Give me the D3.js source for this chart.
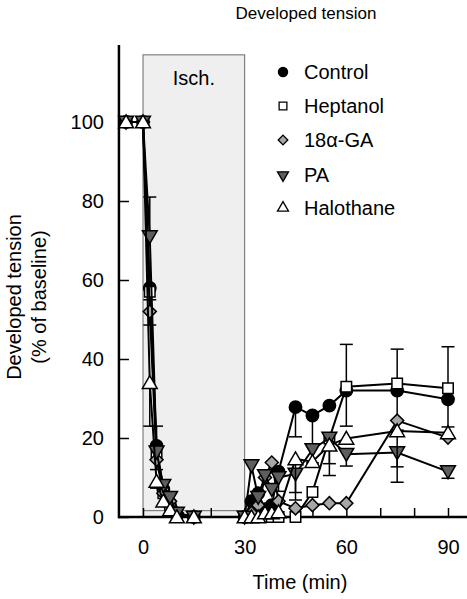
<!DOCTYPE html>
<html><head><meta charset="utf-8">
<script src="https://cdn.jsdelivr.net/npm/d3@7"></script>
<style>body{margin:0;background:#fff}svg{display:block}text{font-family:"Liberation Sans",Arial,sans-serif}</style>
</head><body>
<script>
const times = [-5,0,2,4,6,8,10,15,30,32,34,36,38,40,45,50,55,60,75,90];
const seriesNames = ["Control","Heptanol","18\u03B1-GA","PA","Halothane"];
const control  = [100,100,58,18,7,3,0.5,0, 0,4,6,2,3,11.5,27.8,25.7,28.2,32,32,29.8];
const heptanol = [100,100,57,16,6,3,0,0, 0,0,0,0,0,0,0,6.3,19.9,33,33.8,32.6];
const ga       = [100,100,52,14.5,6,4,1,0, 0,1,3,10,13.8,4,2.2,3,3.5,3.5,24.4,20.1];
const pa       = [100,100,71,16.5,8,5,1,0, 0,13,5,10.5,7,10,10.9,17.1,20,15.9,16.3,11.5];
const halo     = [100,100,34,9,4,1.8,0,0, 0,0,0,1,1,1.3,14.7,14,18.2,19.9,21.8,21.3];
// one-sided error bars (0 = none)
const controlErrUp   = [0,0,0,5,0,0,0,0, 0,0,0,0,0,0,0,0,0,0,0,0];
const controlErrDown = [0,0,3,6,0,0,0,0, 0,0,0,0,0,0,7.5,12,0,9,10,7];
const heptanolErrUp  = [0,0,0,0,0,0,0,0, 0,0,0,0,0,0,0,0,0,10.7,8.7,10.5];
const gaErrDown      = [0,0,3.4,0,0,0,0,0, 0,0,0,0,0,0,0,0,0,0,0,0];
const paErrUp        = [0,0,10,0,0,0,0,0, 0,0,0,0,0,0,0,0,0,0,0,0];
const paErrDown      = [0,0,0,0,0,0,0,0, 0,0,0,0,0,3.5,6.6,0,6.5,3,3.6,1.7];
const haloErrDown    = [0,0,11,1.7,0,0,0,0, 0,0,0,0,0,0,8.5,0,7.7,0,13,0];
const xTicks = [0,10,20,30,40,50,60,70,80,90];
const xTickLabels = [0,30,60,90];
const yTicks = [0,20,40,60,80,100];
const ischemia = [0,30];

const W=467,H=599;
const svg=d3.select("body").append("svg").attr("width",W).attr("height",H);
const x=d3.scaleLinear().domain([0,90]).range([143,448]);
const y=d3.scaleLinear().domain([0,100]).range([517,122]);
const black="#000";

// ischemia box
svg.append("rect").attr("x",x(ischemia[0])).attr("y",y(117)).attr("width",x(ischemia[1])-x(ischemia[0]))
  .attr("height",y(0)-y(117)).attr("fill","#efefef").attr("stroke","#6a6a6a").attr("stroke-width",1);
svg.append("line").attr("x1",x(ischemia[0])).attr("x2",x(ischemia[1])).attr("y1",y(1.6)).attr("y2",y(1.6))
  .attr("stroke","#6a6a6a").attr("stroke-width",1);
svg.append("text").attr("x",x(15)).attr("y",85).attr("text-anchor","middle").attr("font-size",20).text("Isch.");

// axes
const xAxis=d3.axisBottom(x).tickValues(xTicks).tickSizeInner(-9).tickSizeOuter(0).tickFormat(d=>xTickLabels.includes(d)?d:"");
const gx=svg.append("g").attr("transform",`translate(0,${y(0)})`).call(xAxis);
gx.select(".domain").remove();
gx.selectAll(".tick line").attr("stroke",black).attr("stroke-width",1.5);
gx.selectAll(".tick text").attr("font-size",20).attr("dy",0).attr("y",37).attr("fill",black).attr("font-family","Liberation Sans, Arial, sans-serif");
svg.append("line").attr("x1",x(-7.2)).attr("x2",W).attr("y1",y(0)).attr("y2",y(0)).attr("stroke",black).attr("stroke-width",2.5);

const yAxis=d3.axisLeft(y).tickValues(yTicks).tickSizeInner(-10).tickSizeOuter(0).tickFormat(d3.format("d"));
const gy=svg.append("g").attr("transform",`translate(${x(-7.1)},0)`).call(yAxis);
gy.select(".domain").remove();
gy.selectAll(".tick line").attr("stroke",black).attr("stroke-width",1.5);
gy.selectAll(".tick text").attr("font-size",20).attr("x",-15).attr("fill",black).attr("font-family","Liberation Sans, Arial, sans-serif");
svg.append("line").attr("x1",x(-7.1)).attr("x2",x(-7.1)).attr("y1",y(0)+1.2).attr("y2",y(119.5)).attr("stroke",black).attr("stroke-width",2.5);

// labels
svg.append("text").attr("x",306).attr("y",19).attr("text-anchor","middle").attr("font-size",17).text("Developed tension");
svg.append("text").attr("x",300).attr("y",589).attr("text-anchor","middle").attr("font-size",20).text("Time (min)");
svg.append("text").attr("transform","translate(21,297) rotate(-90)").attr("text-anchor","middle").attr("font-size",20).text("Developed tension");
svg.append("text").attr("transform","translate(46,297) rotate(-90)").attr("text-anchor","middle").attr("font-size",20).text("(% of baseline)");

const S=[
 {name:seriesNames[0],v:control,up:controlErrUp,dn:controlErrDown,shape:d3.symbolCircle,size:120,fill:"#000",rot:0},
 {name:seriesNames[1],v:heptanol,up:heptanolErrUp,dn:null,shape:d3.symbolSquare,size:110,fill:"#fff",rot:0},
 {name:seriesNames[2],v:ga,up:null,dn:gaErrDown,shape:d3.symbolSquare,size:85,fill:"#a6a6a6",rot:45},
 {name:seriesNames[3],v:pa,up:paErrUp,dn:paErrDown,shape:d3.symbolTriangle,size:95,fill:"#5e5e5e",rot:180},
 {name:seriesNames[4],v:halo,up:null,dn:haloErrDown,shape:d3.symbolTriangle,size:95,fill:"#fff",rot:0}
];
const line=d3.line().x(d=>x(d[0])).y(d=>y(d[1]));
const cap=6.5;
S.forEach(s=>{
  const g=svg.append("g");
  const pts=times.map((t,i)=>[t,s.v[i],i]);
  // error bars
  pts.forEach(p=>{
    const i=p[2];
    [[s.up,1],[s.dn,-1]].forEach(([arr,sg])=>{
      if(!arr||!arr[i])return;
      const yv=p[1]+sg*arr[i];
      g.append("line").attr("x1",x(p[0])).attr("x2",x(p[0])).attr("y1",y(p[1])).attr("y2",y(yv)).attr("stroke",black).attr("stroke-width",1.5);
      g.append("line").attr("x1",x(p[0])-cap).attr("x2",x(p[0])+cap).attr("y1",y(yv)).attr("y2",y(yv)).attr("stroke",black).attr("stroke-width",1.5);
    });
  });
  g.append("path").datum(pts).attr("d",line).attr("fill","none").attr("stroke",black).attr("stroke-width",2);
  const ty=s.rot===180?-1.5:(s.shape===d3.symbolTriangle?1.5:0);
  g.selectAll("path.m").data(pts).join("path").attr("class","m")
    .attr("d",d3.symbol().type(s.shape).size(s.size))
    .attr("transform",d=>`translate(${x(d[0])},${y(d[1])+ty}) rotate(${s.rot})`)
    .attr("fill",s.fill).attr("stroke",black).attr("stroke-width",1.5);
});

// legend
const ly=[72,106,140,175,208];
S.forEach((s,i)=>{
  svg.append("path").attr("d",d3.symbol().type(s.shape).size(s.size*0.55)())
    .attr("transform",`translate(283,${ly[i]}) rotate(${s.rot})`)
    .attr("fill",s.fill).attr("stroke",black).attr("stroke-width",1.3);
  svg.append("text").attr("x",304).attr("y",ly[i]).attr("dy","0.36em").attr("font-size",20).text(s.name);
});
</script>
</body></html>
